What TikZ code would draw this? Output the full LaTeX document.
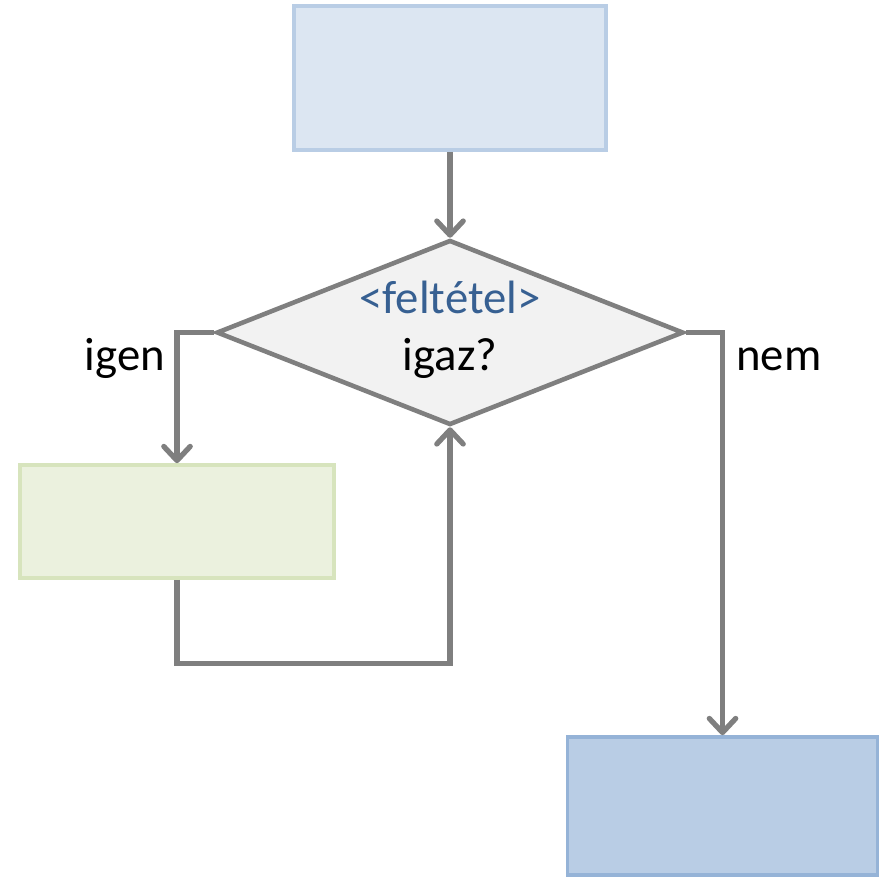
\documentclass[tikz,border=0pt]{standalone}
\usepackage{fontspec}
\setmainfont{Carlito}
\usetikzlibrary{arrows.meta,shapes.geometric}
\definecolor{topfill}{HTML}{DCE6F2}
\definecolor{topline}{HTML}{B9CDE5}
\definecolor{endfill}{HTML}{B9CDE5}
\definecolor{endline}{HTML}{95B3D7}
\definecolor{bodyfill}{HTML}{EBF1DE}
\definecolor{bodyline}{HTML}{D7E4BD}
\definecolor{condfill}{HTML}{F2F2F2}
\definecolor{flowgray}{HTML}{7F7F7F}
\definecolor{condblue}{HTML}{376092}
\tikzset{
  box/.style={draw,line width=2.1pt,inner sep=0pt},
  flow/.style={draw=flowgray,line width=3pt,line join=miter},
  tip/.style={-{Straight Barb[length=8pt,width=15pt,round]}},
  txt/.style={font=\fontsize{26.6}{32}\selectfont,anchor=base}
}
\begin{document}
\begin{tikzpicture}
    \useasboundingbox (0,0) rectangle (17.64,-17.54);
    \node[box,draw=topline,fill=topfill,minimum width=6.24cm,minimum height=2.88cm] (start) at (9,-1.56) {};
    \node[diamond,draw=flowgray,line width=2.6pt,fill=condfill,inner sep=0pt,aspect=2.52,
          minimum width=9.34cm,minimum height=3.7cm] (cond) at (9,-6.65) {};
    \node[txt,text=condblue] (condname) at (9,-6.26) {<feltétel>};
    \node[txt] (condq) at (9,-7.4) {igaz?};
    \node[box,draw=bodyline,fill=bodyfill,minimum width=6.28cm,minimum height=2.26cm] (body) at (3.54,-10.43) {};
    \node[box,draw=endline,fill=endfill,minimum width=6.2cm,minimum height=2.76cm] (end) at (14.45,-16.12) {};
    \draw[flow,tip] (start.south) -- (cond.north);
    \draw[flow,tip] (cond.west) -| (body.north);
    \draw[flow,tip] (body.south) -- ++(0,-1.68) coordinate (back) -| (cond.south);
    \draw[flow,tip] (cond.east) -| (end.north);
    \node[txt] (yes) at (2.5,-7.4) {igen};
    \node[txt] (no) at (15.58,-7.4) {nem};
\end{tikzpicture}
\end{document}
